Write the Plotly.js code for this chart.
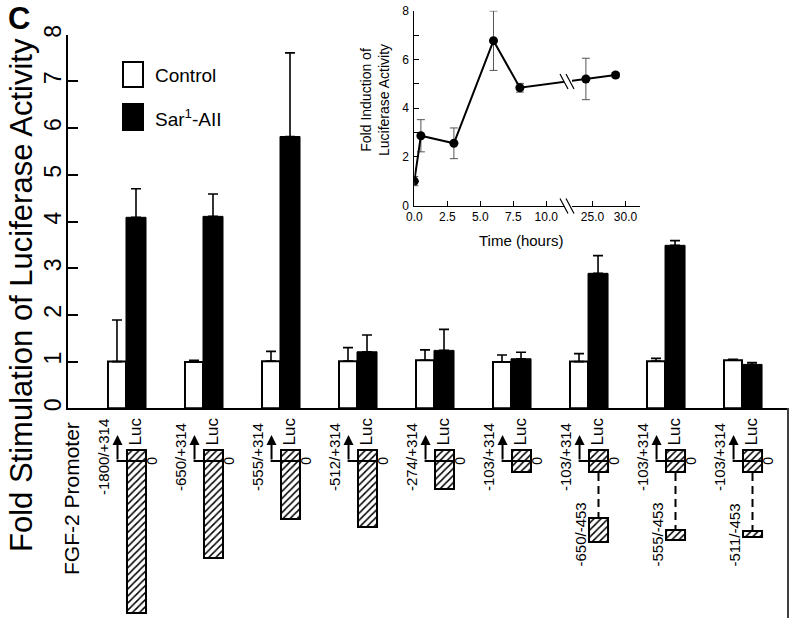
<!DOCTYPE html>
<html><head><meta charset="utf-8">
<script src="https://cdn.plot.ly/plotly-3.0.1.min.js"></script>
<style>html,body{margin:0;padding:0;background:#fff}#chart{width:790px;height:618px}</style>
</head><body><div id="chart"></div>
<script>
// ---------- Main bar chart data ----------
const constructs = ['-1800/+314','-650/+314','-555/+314','-512/+314','-274/+314','-103/+314','-103/+314','-103/+314','-103/+314'];
const controlMean = [1.00,0.99,1.01,1.01,1.03,0.99,1.00,1.01,1.03];
const controlErr  = [0.89,0.04,0.21,0.29,0.22,0.15,0.17,0.06,0.02];
const sarMean     = [4.09,4.11,5.82,1.21,1.24,1.06,2.89,3.49,0.94];
const sarErr      = [0.61,0.48,1.79,0.36,0.45,0.14,0.38,0.10,0.04];
const mainYTicks  = [0,1,2,3,4,5,6,7,8];
const seriesNames = ['Control','Sar<sup>1</sup>-AII'];

// ---------- Promoter schematic (schematic depth units below the start site) ----------
const fragTop     = [-11,-11,-11,-11,-11,-11,-11,-11,-11];
const fragBottom  = [152,97,58,66,28,11,11,11,11];
const distalGroup = [6,7,8];
const distalLabels= ['-650/-453','-555/-453','-511/-453'];
const distalTop   = [57,69,70];
const distalBottom= [81,79,76];

// ---------- Inset time course ----------
const timeHours     = [0,0.5,3,6,8,24,28.5];
const foldInduction = [1.01,2.87,2.56,6.77,4.84,5.20,5.36];
const foldErr       = [0.19,0.66,0.63,1.22,0.18,0.85,0.10];
const timeTicks     = [0,2.5,5,7.5,10,25,30];
const insetYTicks   = [0,2,4,6,8];

// ---------- geometry helpers ----------
const W = 790, H = 618;
const P = (x, y) => ({x: x / W, y: 1 - y / H});
// broken time axis: 0-10 h linear, then 25-30 h compressed after the break
const tx = t => (t <= 12 ? t : 13.5 + (t - 25) / 2);
const FONT = 'Liberation Sans, Arial, Helvetica, sans-serif';
const idx = constructs.map((_, i) => i);

const traces = [
  {type:'bar', name:'Control', x: idx, y: controlMean, xaxis:'x', yaxis:'y',
   offset:-0.234, width:0.234,
   marker:{color:'#ffffff', line:{color:'#000', width:2}},
   error_y:{type:'data', array:controlErr, arrayminus:controlErr.map(()=>0), symmetric:false,
            color:'#000', thickness:1.6, width:5}},
  {type:'bar', name:'Sar1-AII', x: idx, y: sarMean, xaxis:'x', yaxis:'y',
   offset:0, width:0.26,
   marker:{color:'#000', line:{color:'#000', width:1}},
   error_y:{type:'data', array:sarErr, arrayminus:sarErr.map(()=>0), symmetric:false,
            color:'#000', thickness:1.6, width:5}},
  // promoter fragments (hatched)
  {type:'bar', x: idx, base: fragTop, y: fragBottom.map((b,i)=>b - fragTop[i]),
   xaxis:'x', yaxis:'y3', offset:0.013, width:0.247, hoverinfo:'skip',
   marker:{color:'#fff', line:{color:'#000', width:2},
           pattern:{shape:'/', fgcolor:'#000', bgcolor:'#fff', size:5, solidity:0.3, fillmode:'replace'}}},
  {type:'bar', x: distalGroup, base: distalTop, y: distalBottom.map((b,i)=>b - distalTop[i]),
   xaxis:'x', yaxis:'y3', offset:0.013, width:0.247, hoverinfo:'skip',
   marker:{color:'#fff', line:{color:'#000', width:2},
           pattern:{shape:'/', fgcolor:'#000', bgcolor:'#fff', size:5, solidity:0.3, fillmode:'replace'}}},
  // inset
  {type:'scatter', mode:'lines+markers', x: timeHours.map(tx), y: foldInduction,
   xaxis:'x2', yaxis:'y2',
   line:{color:'#000', width:2}, marker:{color:'#000', size:9},
   error_y:{type:'data', array: foldErr, color:'#555', thickness:1, width:4}}
];

const shapes = [];
const annotations = [];

// legend
shapes.push({type:'rect', xref:'paper', yref:'paper', x0:P(123,0).x, x1:P(143,0).x, y0:P(0,87).y, y1:P(0,62).y,
             line:{color:'#000', width:2}, fillcolor:'#fff'});
shapes.push({type:'rect', xref:'paper', yref:'paper', x0:P(123,0).x, x1:P(143,0).x, y0:P(0,130).y, y1:P(0,104).y,
             line:{color:'#000', width:2}, fillcolor:'#000'});
[76, 118].forEach((yy, k) => annotations.push({xref:'paper', yref:'paper', x:P(153,0).x, y:P(0,yy).y,
  xanchor:'left', yanchor:'middle', showarrow:false, text: seriesNames[k], font:{family:FONT, size:19, color:'#000'}}));

// titles
annotations.push({xref:'paper', yref:'paper', x:P(19,0).x, y:1, text:'<b>C</b>', showarrow:false,
  xanchor:'center', yanchor:'top', borderpad:0, font:{family:FONT, size:31, color:'#000'}});
annotations.push({xref:'paper', yref:'paper', x:P(22,0).x, y:P(0,295).y, text:'Fold Stimulation of Luciferase Activity',
  textangle:-90, showarrow:false, xanchor:'center', yanchor:'middle', font:{family:FONT, size:31, color:'#000'}});
annotations.push({xref:'paper', yref:'paper', x:P(71,0).x, y:P(0,499).y, text:'FGF-2 Promoter',
  textangle:-90, showarrow:false, xanchor:'center', yanchor:'middle', font:{family:FONT, size:21, color:'#000'}});

// schematic per construct
idx.forEach(i => {
  const xa = i - 0.11;
  annotations.push({xref:'x', yref:'y3', axref:'x', ayref:'y3', x:xa, y:-26, ax:xa, ay:0, text:'',
    showarrow:true, arrowhead:2, arrowsize:1, arrowwidth:2, arrowcolor:'#000', standoff:0});
  shapes.push({type:'line', xref:'x', yref:'y3', x0:xa - 0.012, x1:i + 0.26, y0:0, y1:0, line:{color:'#000', width:2}, layer:'above'});
  annotations.push({xref:'x', yref:'y3', x:i - 0.285, y:-4, text: constructs[i], textangle:-90, showarrow:false,
    xanchor:'center', yanchor:'middle', font:{family:FONT, size:15, color:'#000'}});
  annotations.push({xref:'x', yref:'y3', x:i + 0.135, y:-30, text:'Luc', textangle:-90, showarrow:false,
    xanchor:'center', yanchor:'middle', font:{family:FONT, size:17, color:'#000'}});
  annotations.push({xref:'x', yref:'y3', x:i + 0.335, y:0, text:'0', textangle:-90, showarrow:false,
    xanchor:'center', yanchor:'middle', font:{family:FONT, size:14, color:'#000'}});
});
distalGroup.forEach((g, k) => {
  shapes.push({type:'line', xref:'x', yref:'y3', x0:g + 0.136, x1:g + 0.136, y0:fragBottom[g] + 1, y1:distalTop[k],
    line:{color:'#000', width:2, dash:'8px,5px'}});
  annotations.push({xref:'x', yref:'y3', x:g - 0.11, y: 74, text: distalLabels[k], textangle:-90, showarrow:false,
    xanchor:'center', yanchor:'middle', font:{family:FONT, size:15, color:'#000'}});
});

// right border line (scan edge)
shapes.push({type:'line', xref:'paper', yref:'paper', x0:P(788,0).x, x1:P(788,0).x, y0:P(0,408).y, y1:0, line:{color:'#000', width:1.5}});

// inset break marks (axis and data line)
[[563,205.5],[563,81]].forEach(([bx, by]) => {
  shapes.push({type:'rect', xref:'paper', yref:'paper', x0:P(bx+1,0).x, x1:P(bx+9,0).x, y0:P(0,by+3).y, y1:P(0,by-3).y,
    line:{width:0}, fillcolor:'#fff', layer:'above'});
  [0, 6].forEach(d => shapes.push({type:'line', xref:'paper', yref:'paper',
    x0:P(bx - 3 + d,0).x, y0:P(0,by - 7).y, x1:P(bx + 5 + d,0).x, y1:P(0,by + 8).y, line:{color:'#000', width:1.2}, layer:'above'}));
});
// inset titles
annotations.push({xref:'paper', yref:'paper', x:P(375,0).x, y:P(0,100).y, text:'Fold Induction of<br>Luciferase Activity',
  textangle:-90, showarrow:false, xanchor:'center', yanchor:'middle', font:{family:FONT, size:14, color:'#000'}});
annotations.push({xref:'paper', yref:'paper', x:P(521,0).x, y:P(0,240).y, text:'Time (hours)',
  showarrow:false, xanchor:'center', yanchor:'middle', font:{family:FONT, size:15, color:'#000'}});

const layout = {
  width: W, height: H, margin:{l:0, r:0, t:0, b:0},
  paper_bgcolor:'#fff', plot_bgcolor:'rgba(0,0,0,0)', showlegend:false,
  font:{family:FONT, color:'#000'},
  xaxis:{domain:[68/W, 787/W], range:[-0.753, 8.584], anchor:'y', showline:true, linecolor:'#000', linewidth:2,
         showticklabels:false, ticks:'', showgrid:false, zeroline:false, fixedrange:true},
  yaxis:{domain:[(H-408.3)/H, (H-34.7)/H], range:[0,8], anchor:'x', showline:true, linecolor:'#000', linewidth:2,
         tickvals: mainYTicks, ticktext: mainYTicks.map(String), ticks:'inside', ticklen:10, tickwidth:2, tickcolor:'#000',
         ticklabelstandoff:-4,
         tickangle:-90, tickfont:{family:FONT, size:23, color:'#000'}, showgrid:false, zeroline:false, fixedrange:true},
  yaxis3:{domain:[0, (H-408.3)/H], range:[H-461, 408.3-461], anchor:'x', visible:false, fixedrange:true},
  xaxis2:{domain:[414.3/W, 640/W], range:[0, 17.1], anchor:'y2', showline:true, linecolor:'#000', linewidth:1,
          tickvals: timeTicks.map(tx), ticktext: timeTicks.map(v => v.toFixed(1)), ticks:'inside', ticklen:5, tickcolor:'#000',
          tickfont:{family:FONT, size:12, color:'#000'}, showgrid:false, zeroline:false, fixedrange:true},
  yaxis2:{domain:[(H-205.7)/H, (H-10.7)/H], range:[0,8], anchor:'x2', showline:true, linecolor:'#000', linewidth:1,
          tickvals: insetYTicks, ticks:'inside', ticklen:5, tickcolor:'#000', ticklabelstandoff:2,
          minor:{dtick:1, ticks:'inside', ticklen:5, tickcolor:'#000', showgrid:false},
          tickfont:{family:FONT, size:12, color:'#000'}, showgrid:false, zeroline:false, fixedrange:true},
  shapes, annotations
};

Plotly.newPlot('chart', traces, layout, {displayModeBar:false, staticPlot:true});
</script></body></html>
